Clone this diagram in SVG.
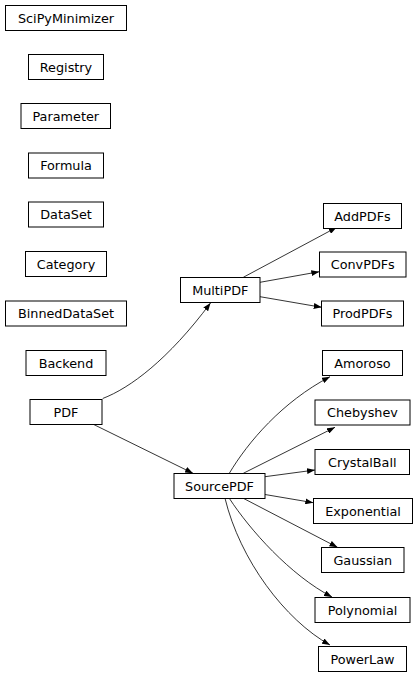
<svg xmlns="http://www.w3.org/2000/svg" width="417" height="677" viewBox="0 0 417 677">
<defs>
<style>
.n rect{fill:#fff;stroke:#000;stroke-width:1}
.n text{font-family:"DejaVu Sans",sans-serif;font-size:12.8px;text-anchor:middle;fill:#000}
.e path{fill:none;stroke:#000;stroke-width:0.8;marker-end:url(#ah)}
</style>
<marker id="ah" markerUnits="userSpaceOnUse" markerWidth="8" markerHeight="6" viewBox="0 0 8 6" refX="8" refY="3" orient="auto"><path d="M0,0 L8,3 L0,6 z" fill="#000"/></marker>
</defs>
<rect width="417" height="677" fill="#fff"/>
<g id="edges" class="e">
<path d="M102.7,398.5 C130,388 168,360 210.5,303"/>
<path d="M91.7,423.5 L193,473.3"/>
<path d="M243.3,277.3 L336.7,227.3"/>
<path d="M260,282.3 L319.3,271.7"/>
<path d="M260,296.7 L321.7,307.3"/>
<path d="M229.3,473.3 C248,442 282,402 330,376.7"/>
<path d="M243.3,473.3 L335,427.3"/>
<path d="M265,476.7 L315,470"/>
<path d="M265,494.5 L313.3,502.7"/>
<path d="M243.3,498.3 L337.5,547.3"/>
<path d="M229.3,498.3 C250,530 290,575 332,597"/>
<path d="M225,498.3 C240,560 285,620 330,645"/>
</g>
<g id="SciPyMinimizer" class="n"><rect x="5.5" y="5.5" width="121" height="25"/><text x="66" y="22.5">SciPyMinimizer</text></g>
<g id="Registry" class="n"><rect x="28.5" y="54.5" width="75" height="25"/><text x="66" y="71.5">Registry</text></g>
<g id="Parameter" class="n"><rect x="21" y="103.5" width="89.5" height="25"/><text x="65.75" y="120.5">Parameter</text></g>
<g id="Formula" class="n"><rect x="28.5" y="153" width="75" height="25"/><text x="66" y="170">Formula</text></g>
<g id="DataSet" class="n"><rect x="28.5" y="202" width="75" height="25"/><text x="66" y="219">DataSet</text></g>
<g id="Category" class="n"><rect x="25.5" y="251.5" width="81" height="25"/><text x="66" y="268.5">Category</text></g>
<g id="BinnedDataSet" class="n"><rect x="5.5" y="301" width="121" height="25"/><text x="66" y="318">BinnedDataSet</text></g>
<g id="Backend" class="n"><rect x="26" y="350.5" width="80" height="25"/><text x="66" y="367.5">Backend</text></g>
<g id="PDF" class="n"><rect x="30" y="399.5" width="72" height="25"/><text x="66" y="416.5">PDF</text></g>
<g id="MultiPDF" class="n"><rect x="180.5" y="277.5" width="79.5" height="25"/><text x="220.25" y="294.5">MultiPDF</text></g>
<g id="AddPDFs" class="n"><rect x="323.5" y="203.5" width="78" height="25"/><text x="362.5" y="220.5">AddPDFs</text></g>
<g id="ConvPDFs" class="n"><rect x="319.5" y="252" width="86.5" height="25"/><text x="362.75" y="269">ConvPDFs</text></g>
<g id="ProdPDFs" class="n"><rect x="321.5" y="301" width="82" height="25"/><text x="362.5" y="318">ProdPDFs</text></g>
<g id="Amoroso" class="n"><rect x="322.5" y="350.5" width="80" height="25"/><text x="362.5" y="367.5">Amoroso</text></g>
<g id="Chebyshev" class="n"><rect x="315" y="400" width="95" height="25"/><text x="362.5" y="417">Chebyshev</text></g>
<g id="CrystalBall" class="n"><rect x="315" y="449.5" width="94.5" height="25"/><text x="362.25" y="466.5">CrystalBall</text></g>
<g id="SourcePDF" class="n"><rect x="174" y="473.5" width="91" height="25"/><text x="219.5" y="490.5">SourcePDF</text></g>
<g id="Exponential" class="n"><rect x="313.5" y="498.5" width="99" height="25"/><text x="363" y="515.5">Exponential</text></g>
<g id="Gaussian" class="n"><rect x="321.5" y="547.5" width="82.5" height="25"/><text x="362.75" y="564.5">Gaussian</text></g>
<g id="Polynomial" class="n"><rect x="315" y="597.5" width="95" height="25"/><text x="362.5" y="614.5">Polynomial</text></g>
<g id="PowerLaw" class="n"><rect x="318.5" y="646.5" width="88" height="25"/><text x="362.5" y="663.5">PowerLaw</text></g>
</svg>
